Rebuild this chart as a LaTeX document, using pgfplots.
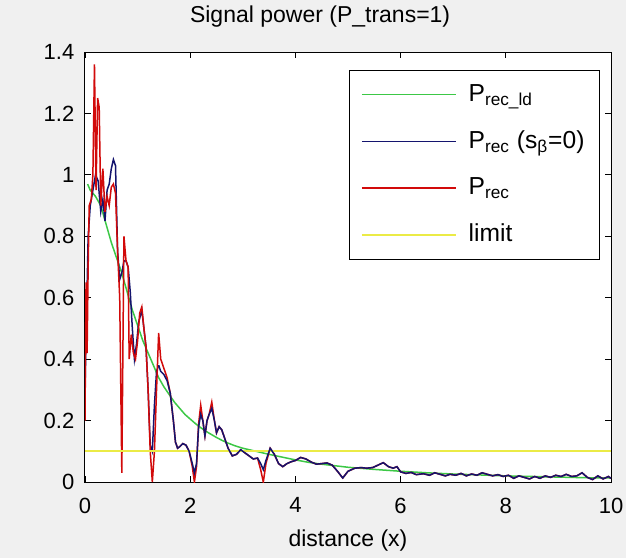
\documentclass[border=0pt]{standalone}
\usepackage{fontspec}
\setmainfont{Liberation Sans}
\usepackage{pgfplots}
\pgfplotsset{compat=1.18}

\definecolor{figbg}{RGB}{240,240,240}
\definecolor{idgreen}{RGB}{60,200,70}
\definecolor{zeroblue}{RGB}{20,20,110}
\definecolor{recred}{RGB}{210,10,10}
\definecolor{limyellow}{RGB}{235,235,70}

\begin{document}
\fontsize{11}{13}\selectfont
\begin{tikzpicture}
  % figure background, also fixes the page size
  \path[use as bounding box, fill=figbg] (-42.5pt,-38pt) rectangle (270.5pt,241pt);
  \begin{axis}[
      at={(0pt,0pt)}, anchor=south west,
      scale only axis,
      width=263pt, height=215pt,
      xmin=0, xmax=10, ymin=0, ymax=1.4,
      xtick={0,2,...,10},
      ytick={0,0.2,0.4,0.6,0.8,1,1.2,1.4},
      yticklabels={0,0.2,0.4,0.6,0.8,1,1.2,1.4},
      /pgf/number format/assume math mode=true,
      xticklabel style={yshift=-4pt},
      yticklabel style={xshift=-1.5pt},
      axis background/.style={fill=white},
      axis line style={black, line width=0.5pt},
      tick style={black, line width=0.4pt},
      major tick length=3pt,
      tick align=inside,
      title={Signal power (P\_trans=1)},
      title style={at={(0.447,1)}, anchor=base, yshift=9pt, inner sep=0pt,
        font=\fontsize{11.5}{13}\selectfont},
      xlabel={distance (x)},
      xlabel style={at={(0.5,0)}, anchor=base, yshift=-32pt, inner sep=0pt,
        font=\fontsize{11.5}{13}\selectfont},
      legend style={at={(0.979,0.958)}, anchor=north east, draw=black,
        line width=0.5pt, fill=white, row sep=9pt,
        inner xsep=5.5pt, inner ysep=5pt,
        font=\fontsize{12.3}{14}\selectfont},
      legend cell align=left,
      legend image code/.code={\draw[#1] (0pt,0pt) -- (47pt,0pt); \path (51pt,0pt);},
      every axis plot/.append style={line width=0.75pt},
    ]
    % ideal received power
    \addplot[idgreen] coordinates {
      (0.05,0.97) (0.1,0.95) (0.2,0.93) (0.3,0.9) (0.4,0.84) (0.5,0.78)
      (0.6,0.73) (0.7,0.68) (0.8,0.62) (0.9,0.56) (1.0,0.51) (1.1,0.46)
      (1.2,0.42) (1.3,0.38) (1.4,0.34) (1.5,0.31) (1.6,0.285) (1.7,0.26)
      (1.8,0.24) (1.9,0.22) (2.0,0.205) (2.1,0.19) (2.2,0.177) (2.3,0.165)
      (2.4,0.155) (2.5,0.145) (2.6,0.136) (2.7,0.128) (2.85,0.118) (3.0,0.11)
      (3.25,0.1) (3.5,0.09) (3.75,0.081) (4.0,0.072) (4.25,0.064) (4.5,0.058)
      (4.75,0.053) (5.0,0.048) (5.5,0.041) (6.0,0.035) (6.5,0.03) (7.0,0.026)
      (7.5,0.023) (8.0,0.02) (8.5,0.018) (9.0,0.016) (9.5,0.014) (10.0,0.013)
    };
    \addlegendentry{P\textsubscript{rec\_ld}}
    % received power without shadowing (first part; the rest is drawn on top below)
    \addplot[zeroblue] coordinates {
      (0.00,0.30) (0.03,0.55) (0.06,0.80) (0.10,0.90) (0.15,0.95) (0.20,1.00)
      (0.25,0.98) (0.30,0.88) (0.34,0.92) (0.38,0.85) (0.42,0.95) (0.46,0.97)
      (0.50,1.02) (0.54,1.05) (0.58,1.03) (0.62,0.75) (0.66,0.66) (0.70,0.68)
      (0.74,0.72) (0.78,0.72) (0.82,0.70) (0.86,0.62) (0.90,0.50) (0.94,0.40)
      (0.98,0.45) (1.02,0.52) (1.08,0.56) (1.12,0.50) (1.16,0.44) (1.20,0.30)
      (1.24,0.12) (1.28,0.10) (1.32,0.25) (1.36,0.36) (1.40,0.38)
    };
    \addlegendentry{P\textsubscript{rec} (s\textsubscript{β}=0)}
    % received power with shadowing
    \addplot[recred] coordinates {
      (0.00,0.20) (0.02,0.65) (0.04,0.42) (0.06,0.70) (0.08,0.90) (0.12,0.92)
      (0.15,1.00) (0.18,1.36) (0.21,0.95) (0.24,1.25) (0.27,1.22) (0.30,0.90)
      (0.34,1.02) (0.38,0.88) (0.42,0.93) (0.46,0.90) (0.50,0.96) (0.54,0.97)
      (0.58,0.94) (0.62,0.75) (0.66,0.60) (0.70,0.03) (0.74,0.80) (0.78,0.72)
      (0.82,0.70) (0.84,0.40) (0.88,0.48) (0.92,0.42) (0.96,0.40) (1.00,0.46)
      (1.04,0.55) (1.08,0.57) (1.12,0.50) (1.16,0.44) (1.20,0.30) (1.24,0.10)
      (1.28,0.00) (1.32,0.10) (1.36,0.30) (1.40,0.485) (1.44,0.40) (1.50,0.37)
      (1.56,0.34) (1.62,0.29) (1.68,0.20) (1.72,0.13) (1.76,0.11) (1.80,0.115)
      (1.86,0.125) (1.92,0.12) (1.98,0.10) (2.04,0.05) (2.08,0.00) (2.12,0.05)
      (2.16,0.19) (2.20,0.25) (2.24,0.20) (2.28,0.15) (2.32,0.20) (2.36,0.22)
      (2.41,0.26) (2.46,0.20) (2.50,0.16) (2.55,0.18) (2.60,0.17) (2.66,0.14)
      (2.72,0.11) (2.80,0.085) (2.88,0.09) (2.96,0.105) (3.04,0.095) (3.12,0.085)
      (3.20,0.075) (3.28,0.078) (3.34,0.04) (3.39,0.00) (3.44,0.06) (3.52,0.11)
      (3.60,0.09) (3.68,0.06) (3.76,0.05) (3.84,0.06) (3.92,0.066) (4.00,0.07)
      (4.10,0.08) (4.20,0.075) (4.30,0.065) (4.40,0.058) (4.50,0.060) (4.60,0.062)
      (4.70,0.055) (4.80,0.035) (4.90,0.013) (5.00,0.035) (5.13,0.045) (5.25,0.047)
      (5.35,0.045) (5.47,0.047) (5.57,0.055) (5.67,0.063) (5.77,0.050) (5.86,0.045)
      (5.93,0.05) (6.00,0.033) (6.10,0.028) (6.20,0.031) (6.30,0.024) (6.43,0.027)
      (6.55,0.022) (6.65,0.03) (6.75,0.025) (6.85,0.02) (6.94,0.025) (7.05,0.022)
      (7.15,0.028) (7.25,0.02) (7.35,0.026) (7.45,0.022) (7.55,0.03) (7.65,0.025)
      (7.75,0.02) (7.85,0.024) (7.95,0.018) (8.05,0.022) (8.15,0.012) (8.25,0.02)
      (8.35,0.015) (8.45,0.01) (8.55,0.018) (8.65,0.012) (8.75,0.02) (8.85,0.015)
      (8.95,0.022) (9.05,0.018) (9.15,0.025) (9.25,0.018) (9.35,0.02) (9.45,0.03)
      (9.55,0.015) (9.65,0.008) (9.75,0.02) (9.85,0.01) (9.95,0.018) (10.00,0.012)
    };
    \addlegendentry{P\textsubscript{rec}}
    \addplot[limyellow, line width=0.9pt] coordinates {(0,0.1) (10,0.1)};
    \addlegendentry{limit}
    % received power without shadowing, from x = 1.4 on, drawn over the red line
    \addplot[zeroblue, forget plot] coordinates {
      (1.40,0.38) (1.44,0.36)
      (1.50,0.35) (1.56,0.33) (1.62,0.29) (1.68,0.20) (1.72,0.13) (1.76,0.11)
      (1.80,0.115) (1.86,0.125) (1.92,0.12) (1.98,0.10) (2.04,0.06) (2.08,0.03)
      (2.12,0.06) (2.16,0.18) (2.20,0.22) (2.24,0.20) (2.28,0.15) (2.32,0.20)
      (2.36,0.22) (2.41,0.24) (2.46,0.20) (2.50,0.16) (2.55,0.18) (2.60,0.17)
      (2.66,0.14) (2.72,0.11) (2.80,0.085) (2.88,0.09) (2.96,0.105) (3.04,0.095)
      (3.12,0.085) (3.20,0.075) (3.28,0.078) (3.34,0.06) (3.39,0.04) (3.44,0.07)
      (3.52,0.11) (3.60,0.09) (3.68,0.06) (3.76,0.05) (3.84,0.06) (3.92,0.066)
      (4.00,0.07) (4.10,0.08) (4.20,0.075) (4.30,0.065) (4.40,0.058) (4.50,0.060)
      (4.60,0.062) (4.70,0.055) (4.80,0.035) (4.90,0.013) (5.00,0.035) (5.13,0.045)
      (5.25,0.047) (5.35,0.045) (5.47,0.047) (5.57,0.055) (5.67,0.063) (5.77,0.050)
      (5.86,0.045) (5.93,0.05) (6.00,0.033) (6.10,0.028) (6.20,0.031) (6.30,0.024)
      (6.43,0.027) (6.55,0.022) (6.65,0.03) (6.75,0.025) (6.85,0.02) (6.94,0.025)
      (7.05,0.022) (7.15,0.028) (7.25,0.02) (7.35,0.026) (7.45,0.022) (7.55,0.03)
      (7.65,0.025) (7.75,0.02) (7.85,0.024) (7.95,0.018) (8.05,0.022) (8.15,0.012)
      (8.25,0.02) (8.35,0.015) (8.45,0.01) (8.55,0.018) (8.65,0.012) (8.75,0.02)
      (8.85,0.015) (8.95,0.022) (9.05,0.018) (9.15,0.025) (9.25,0.018) (9.35,0.02)
      (9.45,0.03) (9.55,0.015) (9.65,0.008) (9.75,0.02) (9.85,0.01) (9.95,0.018)
      (10.00,0.012)
    };
  \end{axis}
\end{tikzpicture}
\end{document}
